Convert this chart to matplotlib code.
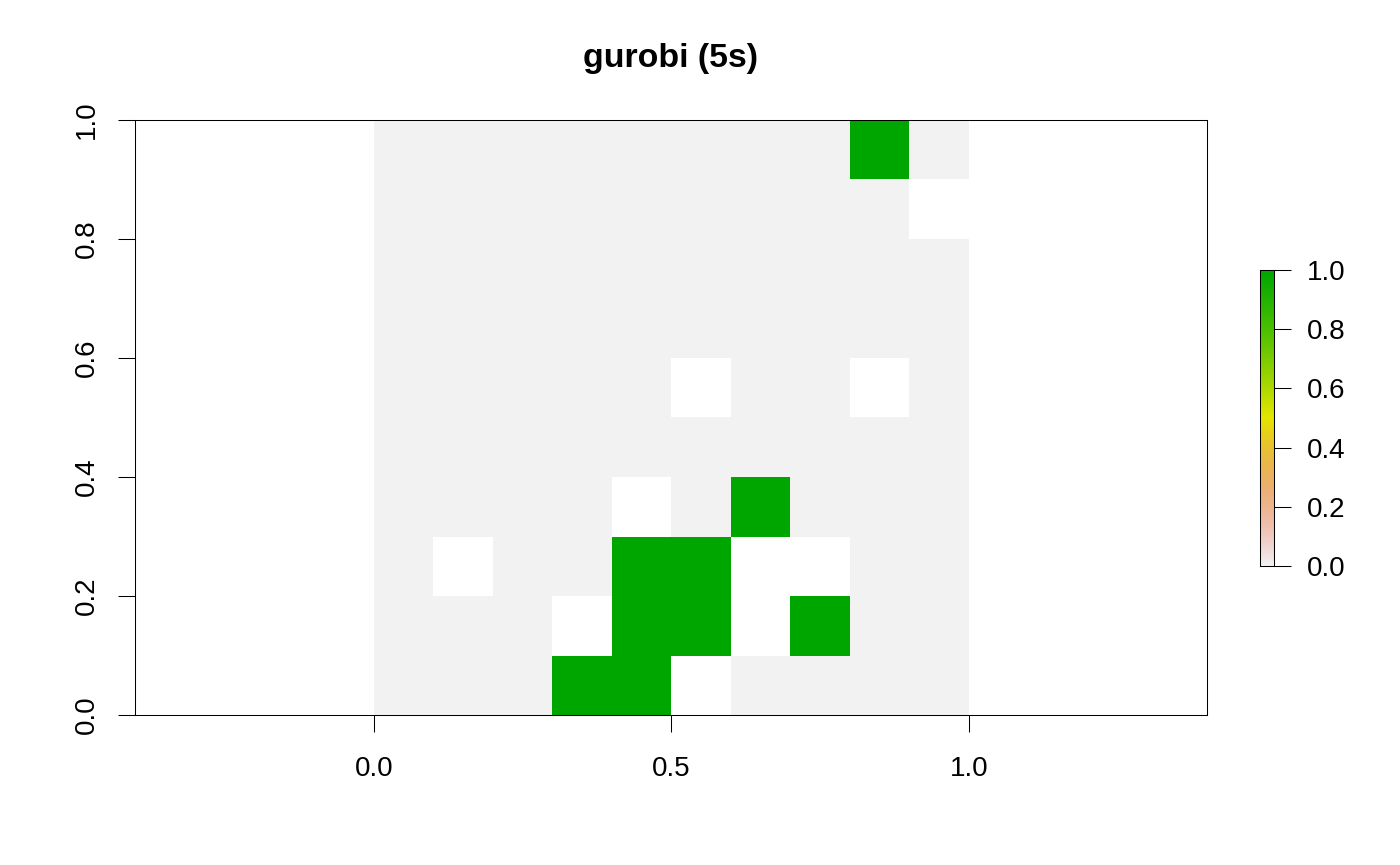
import colorsys
import numpy as np
import matplotlib
matplotlib.use("Agg")
import matplotlib.pyplot as plt
from matplotlib.colors import ListedColormap

plt.rcParams['font.family'] = ['Liberation Sans', 'DejaVu Sans']

N = np.nan
# rows listed from y=0.0-0.1 (bottom) up to y=0.9-1.0 (top), columns x=0.0..1.0
row_00 = [0, 0, 0, 1, 1, N, 0, 0, 0, 0]
row_10 = [0, 0, 0, N, 1, 1, N, 1, 0, 0]
row_20 = [0, N, 0, 0, 1, 1, N, N, 0, 0]
row_30 = [0, 0, 0, 0, N, 0, 1, 0, 0, 0]
row_40 = [0, 0, 0, 0, 0, 0, 0, 0, 0, 0]
row_50 = [0, 0, 0, 0, 0, N, 0, 0, N, 0]
row_60 = [0, 0, 0, 0, 0, 0, 0, 0, 0, 0]
row_70 = [0, 0, 0, 0, 0, 0, 0, 0, 0, 0]
row_80 = [0, 0, 0, 0, 0, 0, 0, 0, 0, N]
row_90 = [0, 0, 0, 0, 0, 0, 0, 0, 1, 0]
cells = np.ma.masked_invalid(np.array(
    [row_00, row_10, row_20, row_30, row_40,
     row_50, row_60, row_70, row_80, row_90], dtype=float))
x_edges = [0.0, 0.1, 0.2, 0.3, 0.4, 0.5, 0.6, 0.7, 0.8, 0.9, 1.0]
y_edges = [0.0, 0.1, 0.2, 0.3, 0.4, 0.5, 0.6, 0.7, 0.8, 0.9, 1.0]
x_ticks = [0.0, 0.5, 1.0]
y_ticks = [0.0, 0.2, 0.4, 0.6, 0.8, 1.0]
bar_ticks = [0.0, 0.2, 0.4, 0.6, 0.8, 1.0]
title = "gurobi (5s)"

# R terrain.colors ramp, reversed (low = light grey, high = green)
def ramp(n):
    k = n // 2
    out = []
    for t in np.linspace(0, 1, k):
        out.append(colorsys.hsv_to_rgb((4/12) + t*(2/12-4/12), 1.0, 0.65 + t*(0.90-0.65)))
    for t in np.linspace(0, 1, n - k + 1)[1:]:
        out.append(colorsys.hsv_to_rgb((2/12) + t*(0-2/12), 1.0 - t*1.0, 0.90 + t*(0.95-0.90)))
    return out[::-1]
cmap = ListedColormap(ramp(256))
cmap.set_bad((1, 1, 1, 0))

W, H = 1400, 865
fig = plt.figure(figsize=(W/100, H/100), dpi=100)
L, R, T, B = 135, 1207, 120, 715
ax = fig.add_axes([L/W, 1-B/H, (R-L)/W, (B-T)/H])
ax.pcolormesh(x_edges, y_edges, cells, cmap=cmap, vmin=0, vmax=1,
              shading='flat', antialiased=False, linewidth=0, rasterized=False)
ax.set_xlim(-0.4015, 1.4005)
ax.set_ylim(0, 1)
ax.set_xticks(x_ticks)
ax.set_xticklabels([f"{v:.1f}" for v in x_ticks])
ax.set_yticks(y_ticks)
ax.set_yticklabels([f"{v:.1f}" for v in y_ticks], rotation=90, va='center')
ax.tick_params(axis='x', length=12.2, width=0.75, labelsize=20, pad=17)
ax.tick_params(axis='y', length=12.2, width=0.75, labelsize=20, pad=13.3)
for s in ax.spines.values():
    s.set_linewidth(0.75)
fig.text(671/W, 1-59/H, title, ha='center', va='center', fontsize=24.4, fontweight='bold')

cb_l, cb_r, cb_t, cb_b = 1260, 1274, 270, 566
cax = fig.add_axes([cb_l/W, 1-cb_b/H, (cb_r-cb_l)/W, (cb_b-cb_t)/H])
grad = np.linspace(1, 0, 256).reshape(-1, 1)
cax.imshow(grad, cmap=cmap, vmin=0, vmax=1, extent=(0, 1, 0, 1),
           aspect='auto', interpolation='bilinear')
cax.set_xticks([])
cax.set_xlim(0, 1)
cax.set_ylim(0, 1)
cax.yaxis.tick_right()
cax.set_yticks(bar_ticks)
cax.set_yticklabels([f"{v:.1f}" for v in bar_ticks])
cax.tick_params(axis='y', length=12, width=0.75, labelsize=20, pad=11.5)
for s in cax.spines.values():
    s.set_linewidth(0.75)

fig.savefig("out.png", dpi=100, facecolor='white')
